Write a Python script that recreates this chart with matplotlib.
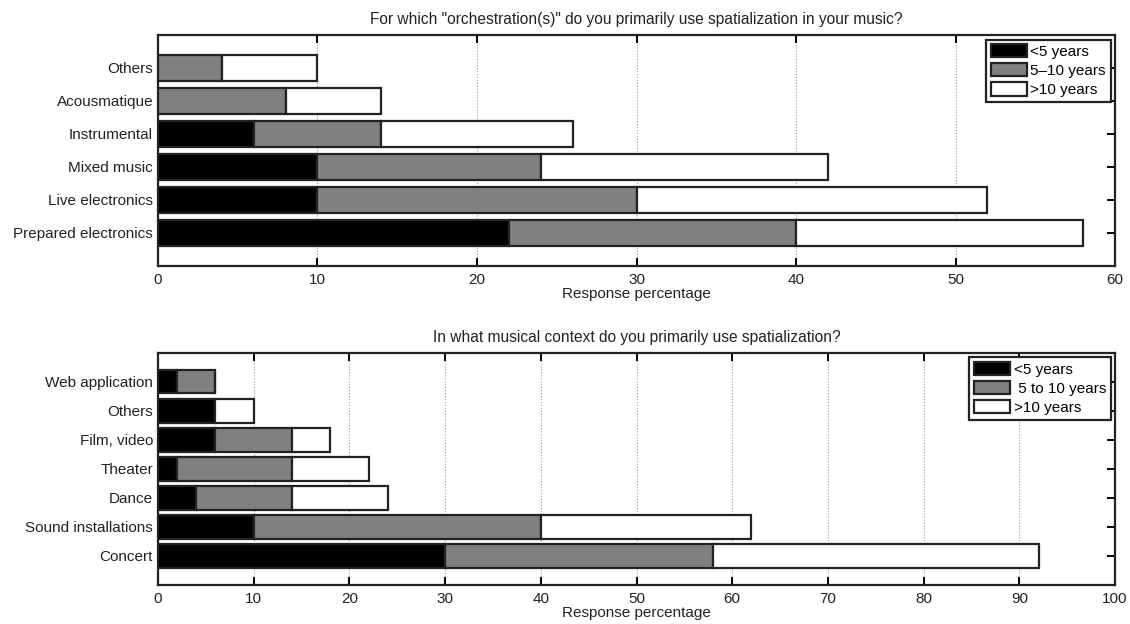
import numpy as np
import matplotlib
matplotlib.use("Agg")
import matplotlib.pyplot as plt

plt.rcParams['font.family'] = ['Liberation Sans', 'DejaVu Sans']

# top panel: orchestration
orch_labels = ["Prepared electronics", "Live electronics", "Mixed music",
               "Instrumental", "Acousmatique", "Others"]
orch_lt5 = [22, 10, 10, 6, 0, 0]
orch_5to10 = [18, 20, 14, 8, 8, 4]
orch_gt10 = [18, 22, 18, 12, 6, 6]
orch_legend = ["<5 years", "5\u201310 years", ">10 years"]

# bottom panel: musical context
ctx_labels = ["Concert", "Sound installations", "Dance", "Theater",
              "Film, video", "Others", "Web application"]
ctx_lt5 = [30, 10, 4, 2, 6, 6, 2]
ctx_5to10 = [28, 30, 10, 12, 8, 0, 4]
ctx_gt10 = [34, 22, 10, 8, 4, 4, 0]
ctx_legend = ["<5 years", " 5 to 10 years", ">10 years"]

colors = ["black", "#808080", "white"]


def stacked(ax, labels, series, names, xmax, xticks, title):
    y = np.arange(1, len(labels) + 1)
    left = np.zeros(len(labels))
    for vals, c, n in zip(series, colors, names):
        vals = np.array(vals, dtype=float)
        ax.barh(y, vals, left=left, height=0.8, color=c, edgecolor="#222222",
                linewidth=1.6, label=n, zorder=3)
        left += vals
    ax.set_ylim(0, len(labels) + 1)
    ax.set_xlim(0, xmax)
    ax.set_yticks(y)
    ax.set_yticklabels(labels, fontsize=11, color="#222222")
    ax.set_xticks(xticks)
    ax.tick_params(axis="x", labelsize=11, labelcolor="#222222", pad=5)
    ax.tick_params(direction="in", top=True, right=True, length=6, width=1.4)
    ax.grid(axis="x", linestyle=":", color="#999999", linewidth=0.8, zorder=0)
    for s in ax.spines.values():
        s.set_linewidth(1.6)
        s.set_color("#222222")
    ax.set_xlabel("Response percentage", fontsize=11, labelpad=0, color="#222222")
    ax.set_title(title, fontsize=11.2, pad=8, color="#222222")
    leg = ax.legend(loc="upper right", fontsize=11, fancybox=False,
                    framealpha=1, edgecolor="#222222", handlelength=2.4,
                    handleheight=0.95, borderpad=0.3, labelspacing=0.28,
                    handletextpad=0.2, borderaxespad=0.3)
    leg.get_frame().set_linewidth(1.6)


fig = plt.figure(figsize=(11.3, 6.24), dpi=100)
ax1 = fig.add_axes([0.1398, 0.574, 0.847, 0.370])
ax2 = fig.add_axes([0.1398, 0.0625, 0.847, 0.372])

stacked(ax1, orch_labels, [orch_lt5, orch_5to10, orch_gt10], orch_legend,
        60, np.arange(0, 61, 10),
        'For which "orchestration(s)" do you primarily use spatialization in your music?')
stacked(ax2, ctx_labels, [ctx_lt5, ctx_5to10, ctx_gt10], ctx_legend,
        100, np.arange(0, 101, 10),
        "In what musical context do you primarily use spatialization?")

fig.savefig("out.png", dpi=100)
